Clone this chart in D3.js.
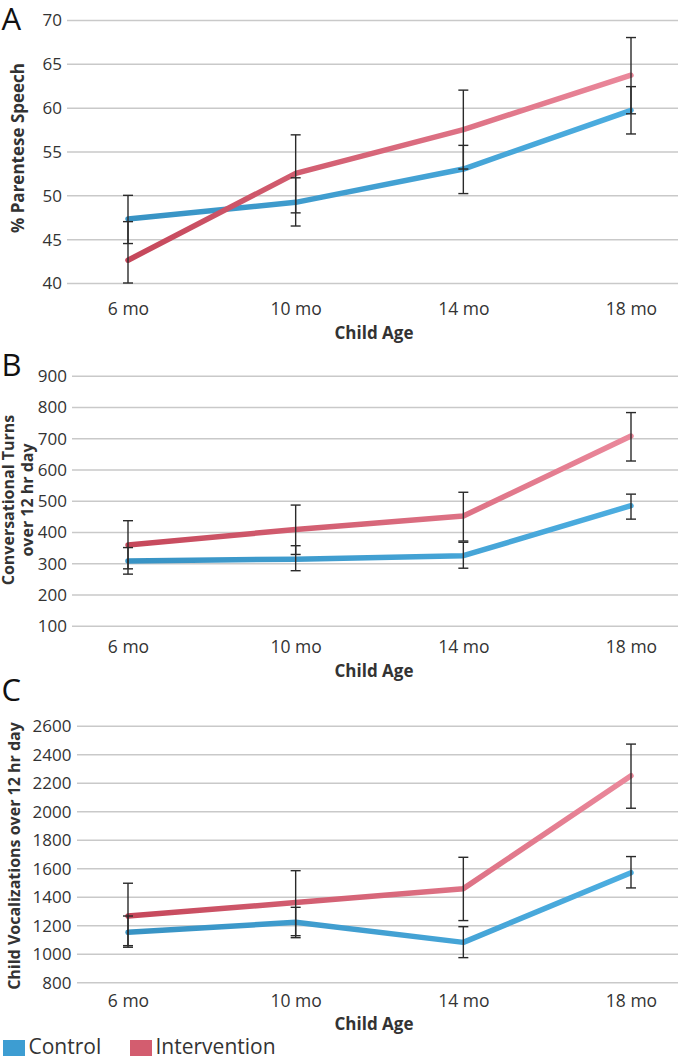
<!DOCTYPE html>
<html>
<head>
<meta charset="utf-8">
<script src="https://cdn.jsdelivr.net/npm/d3@7/dist/d3.min.js"></script>
<style>
  html, body { margin: 0; padding: 0; background: #fff; }
  svg { display: block; }
  text { font-family: "Open Sans", "DejaVu Sans", sans-serif; }
</style>
</head>
<body>
<svg id="chart" width="678" height="1056"></svg>
<script>
// ---------------- DATA ----------------
const categories = ["6 mo", "10 mo", "14 mo", "18 mo"];
const seriesNames = ["Control", "Intervention"];

// Panel A: % Parentese Speech
const parenteseTicks = [40, 45, 50, 55, 60, 65, 70];
const parenteseControl = [47.3, 49.2, 53.0, 59.7];
const parenteseIntervention = [42.6, 52.5, 57.5, 63.7];
const parenteseControlLow = [44.5, 46.5, 50.2, 57.0];
const parenteseControlHigh = [50.0, 52.0, 55.7, 62.4];
const parenteseInterventionLow = [40.0, 48.0, 53.0, 59.3];
const parenteseInterventionHigh = [47.0, 56.9, 62.0, 68.0];

// Panel B: Conversational Turns over 12 hr day
const turnsTicks = [100, 200, 300, 400, 500, 600, 700, 800, 900];
const turnsControl = [307, 313, 324, 484];
const turnsIntervention = [358, 408, 451, 707];
const turnsControlLow = [265, 276, 284, 441];
const turnsControlHigh = [350, 356, 367, 521];
const turnsInterventionLow = [282, 328, 371, 627];
const turnsInterventionHigh = [436, 486, 527, 782];

// Panel C: Child Vocalizations over 12 hr day
const vocTicks = [800, 1000, 1200, 1400, 1600, 1800, 2000, 2200, 2400, 2600];
const vocControl = [1151, 1221, 1080, 1569];
const vocIntervention = [1265, 1359, 1457, 2249];
const vocControlLow = [1046, 1113, 973, 1462];
const vocControlHigh = [1265, 1326, 1190, 1682];
const vocInterventionLow = [1057, 1127, 1233, 2021];
const vocInterventionHigh = [1495, 1583, 1677, 2471];

const xTitle = "Child Age";

// ---------------- LAYOUT ----------------
const W = 678;
const svg = d3.select("#chart");

const defs = svg.append("defs");
function grad(id, c0, c1) {
  const g = defs.append("linearGradient").attr("id", id)
    .attr("gradientUnits", "userSpaceOnUse")
    .attr("x1", 128).attr("x2", 631).attr("y1", 0).attr("y2", 0);
  g.append("stop").attr("offset", "0%").attr("stop-color", c0);
  g.append("stop").attr("offset", "100%").attr("stop-color", c1);
}
grad("gControl", "#3893c4", "#4cade0");
grad("gIntervention", "#c5475a", "#ea889b");
const strokes = ["url(#gControl)", "url(#gIntervention)"];
const legendColors = ["#3d9dd2", "#d35d6f"];

const x = d3.scalePoint().domain(categories).range([128, 631]);

const panels = [
  {
    letter: "A", letterY: 29.5,
    ticks: parenteseTicks, yRange: [283, 20], gridX0: 67, tickX: 62,
    xTickY: 314.5, xTitleY: 338.5, yTitleSize: 17,
    yTitle: [{ text: "% Parentese Speech", x: 23.5 }], yTitleCY: 148,
    series: [parenteseControl, parenteseIntervention],
    lows: [parenteseControlLow, parenteseInterventionLow],
    highs: [parenteseControlHigh, parenteseInterventionHigh]
  },
  {
    letter: "B", letterY: 375.5,
    ticks: turnsTicks, yRange: [625.7, 375.7], gridX0: 72, tickX: 67,
    xTickY: 653, xTitleY: 676.5, yTitleSize: 16,
    yTitle: [{ text: "Conversational Turns", x: 14 }, { text: "over 12 hr day", x: 32.5 }], yTitleCY: 500,
    series: [turnsControl, turnsIntervention],
    lows: [turnsControlLow, turnsInterventionLow],
    highs: [turnsControlHigh, turnsInterventionHigh]
  },
  {
    letter: "C", letterY: 700.5,
    ticks: vocTicks, yRange: [982.3, 725.7], gridX0: 77, tickX: 71.5,
    xTickY: 1006.5, xTitleY: 1030, yTitleSize: 16,
    yTitle: [{ text: "Child Vocalizations over 12 hr day", x: 19.5 }], yTitleCY: 856,
    series: [vocControl, vocIntervention],
    lows: [vocControlLow, vocInterventionLow],
    highs: [vocControlHigh, vocInterventionHigh]
  }
];

panels.forEach(p => {
  const y = d3.scaleLinear()
    .domain([p.ticks[0], p.ticks[p.ticks.length - 1]])
    .range(p.yRange);
  const g = svg.append("g");

  // gridlines
  const yGrid = d3.axisLeft(y).tickValues(p.ticks).tickSize(-(W - p.gridX0)).tickFormat("");
  g.append("g").attr("transform", `translate(${p.gridX0},0)`).call(yGrid)
    .call(s => s.select(".domain").remove())
    .call(s => s.selectAll("line").attr("stroke", "#c9c9c9").attr("stroke-width", 1.5));

  // y tick labels
  const yAxis = d3.axisLeft(y).tickValues(p.ticks).tickSize(0).tickPadding(0).tickFormat(d3.format("d"));
  g.append("g").attr("transform", `translate(${p.tickX},0)`).call(yAxis)
    .call(s => s.select(".domain").remove())
    .call(s => s.selectAll("text")
      .attr("fill", "#333").attr("font-size", "17px")
      .attr("font-family", "'Open Sans', sans-serif").attr("dy", "0.35em"));

  // x tick labels
  const xAxis = d3.axisBottom(x).tickSize(0).tickPadding(0);
  g.append("g").attr("transform", `translate(0,${p.xTickY})`).call(xAxis)
    .call(s => s.select(".domain").remove())
    .call(s => s.selectAll("text")
      .attr("fill", "#333").attr("font-size", "17.5px")
      .attr("font-family", "'Open Sans', sans-serif").attr("dy", 0).attr("y", 0));

  // x title
  g.append("text").attr("x", 374).attr("y", p.xTitleY)
    .attr("text-anchor", "middle").attr("font-weight", "bold")
    .attr("font-size", "17px").attr("fill", "#333").text(xTitle);

  // y title
  p.yTitle.forEach(t => {
    g.append("text")
      .attr("transform", `translate(${t.x},${p.yTitleCY}) rotate(-90)`)
      .attr("text-anchor", "middle").attr("font-weight", "bold")
      .attr("font-size", p.yTitleSize + "px").attr("fill", "#333").text(t.text);
  });

  // panel letter
  g.append("text").attr("x", 1.5).attr("y", p.letterY)
    .attr("font-family", "'Liberation Sans', Arial, sans-serif")
    .attr("font-size", "31px").attr("fill", "#111").text(p.letter);

  // lines
  const line = d3.line().x((d, i) => x(categories[i])).y(d => y(d));
  p.series.forEach((vals, si) => {
    g.append("path").datum(vals)
      .attr("d", line)
      .attr("fill", "none")
      .attr("stroke", strokes[si])
      .attr("stroke-width", 5.5)
      .attr("stroke-linejoin", "round")
      .attr("stroke-linecap", "round");
  });

  // error bars
  const eg = g.append("g").attr("stroke", "#2a2a2a").attr("stroke-width", 1.4);
  p.series.forEach((vals, si) => {
    vals.forEach((v, i) => {
      const cx = x(categories[i]);
      const lo = y(p.lows[si][i]), hi = y(p.highs[si][i]);
      eg.append("line").attr("x1", cx).attr("x2", cx).attr("y1", lo).attr("y2", hi);
      eg.append("line").attr("x1", cx - 5).attr("x2", cx + 5).attr("y1", lo).attr("y2", lo);
      eg.append("line").attr("x1", cx - 5).attr("x2", cx + 5).attr("y1", hi).attr("y2", hi);
    });
  });
});

// legend
const legend = svg.append("g");
const legendX = [3, 130];
seriesNames.forEach((name, i) => {
  legend.append("rect").attr("x", legendX[i]).attr("y", 1040)
    .attr("width", 22).attr("height", 22).attr("fill", legendColors[i]);
  legend.append("text").attr("x", legendX[i] + 25.5).attr("y", 1053.5)
    .attr("font-size", "21px").attr("fill", "#333").text(name);
});
</script>
</body>
</html>
